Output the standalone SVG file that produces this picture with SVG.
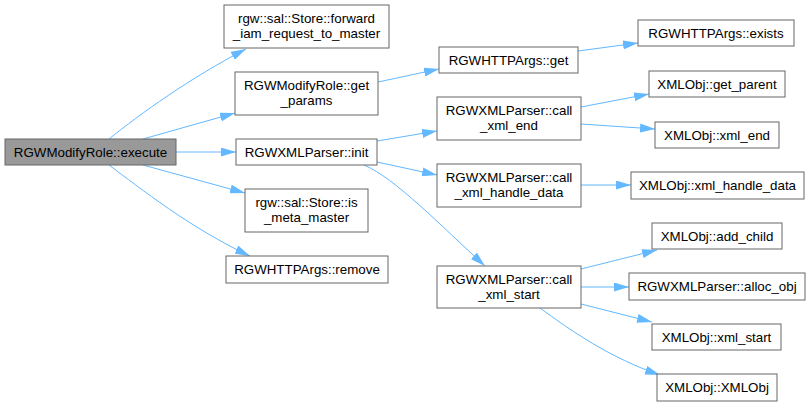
<svg xmlns="http://www.w3.org/2000/svg" width="810" height="407" viewBox="0 0 810 407">
<style>
.n rect{fill:#fff;stroke:#666;stroke-width:1}
.n text{font-family:"Liberation Sans",Arial,sans-serif;font-size:13.33px;fill:#000;text-anchor:middle}
#n0 rect{fill:#999}
.e path{fill:none;stroke:#63b8ff;stroke-width:1;marker-end:url(#ah)}
</style>
<defs>
<marker id="ah" markerUnits="userSpaceOnUse" viewBox="0 0 15 9" refX="15" refY="4.5" markerWidth="15" markerHeight="9" orient="auto">
<path d="M0,0 L15,4.5 L0,9 Z" fill="#63b8ff"/>
</marker>
</defs>
<rect width="810" height="407" fill="#fff"/>
<g class="e">
<path d="M109,139 C140,114 190,78 246,49"/>
<path d="M143,139 L235,113"/>
<path d="M176,152 L236,152"/>
<path d="M143,165 L245,193"/>
<path d="M109,165 C140,188 190,228 250,256"/>
<path d="M378,82 L439,69"/>
<path d="M578,51 L638,43"/>
<path d="M377,141 L437,131"/>
<path d="M377,162 L437,175"/>
<path d="M364,165 C395,178 440,225 485,266"/>
<path d="M581,107 L649,94"/>
<path d="M581,124 L655,129"/>
<path d="M581,185 L631,185"/>
<path d="M581,269 L657,250"/>
<path d="M581,287 L629,287"/>
<path d="M581,304 L652,322"/>
<path d="M540,308 C570,330 610,358 660,375"/>
</g>
<g id="n0" class="n"><rect x="5" y="139" width="171" height="26"/><text x="90.5" y="157">RGWModifyRole::execute</text></g>
<g id="n1" class="n"><rect x="224" y="5" width="165" height="43"/><text x="306.5" y="23">rgw::sal::Store::forward</text><text x="306.5" y="38">_iam_request_to_master</text></g>
<g id="n2" class="n"><rect x="235" y="72" width="143" height="43"/><text x="306.5" y="90">RGWModifyRole::get</text><text x="306.5" y="105">_params</text></g>
<g id="n3" class="n"><rect x="236" y="139" width="141" height="26"/><text x="306.5" y="157">RGWXMLParser::init</text></g>
<g id="n4" class="n"><rect x="245" y="189" width="123" height="43"/><text x="306.5" y="207">rgw::sal::Store::is</text><text x="306.5" y="222">_meta_master</text></g>
<g id="n5" class="n"><rect x="226" y="256" width="162" height="27"/><text x="307" y="274">RGWHTTPArgs::remove</text></g>
<g id="n6" class="n"><rect x="439" y="47" width="139" height="26"/><text x="508.5" y="65">RGWHTTPArgs::get</text></g>
<g id="n7" class="n"><rect x="638" y="20" width="156" height="26"/><text x="716" y="38">RGWHTTPArgs::exists</text></g>
<g id="n8" class="n"><rect x="437" y="97" width="144" height="43"/><text x="509" y="115">RGWXMLParser::call</text><text x="509" y="130">_xml_end</text></g>
<g id="n9" class="n"><rect x="649" y="71" width="136" height="26"/><text x="717" y="89">XMLObj::get_parent</text></g>
<g id="n10" class="n"><rect x="655" y="122" width="124" height="26"/><text x="717" y="140">XMLObj::xml_end</text></g>
<g id="n11" class="n"><rect x="437" y="164" width="144" height="43"/><text x="509" y="182">RGWXMLParser::call</text><text x="509" y="197">_xml_handle_data</text></g>
<g id="n12" class="n"><rect x="631" y="172" width="173" height="27"/><text x="717.5" y="190">XMLObj::xml_handle_data</text></g>
<g id="n13" class="n"><rect x="437" y="266" width="144" height="42"/><text x="509" y="284">RGWXMLParser::call</text><text x="509" y="299">_xml_start</text></g>
<g id="n14" class="n"><rect x="652" y="223" width="130" height="26"/><text x="717" y="241">XMLObj::add_child</text></g>
<g id="n15" class="n"><rect x="629" y="273" width="176" height="27"/><text x="717" y="291">RGWXMLParser::alloc_obj</text></g>
<g id="n16" class="n"><rect x="652" y="324" width="129" height="26"/><text x="716.5" y="342">XMLObj::xml_start</text></g>
<g id="n17" class="n"><rect x="657" y="374" width="120" height="27"/><text x="717" y="392">XMLObj::XMLObj</text></g>
</svg>
